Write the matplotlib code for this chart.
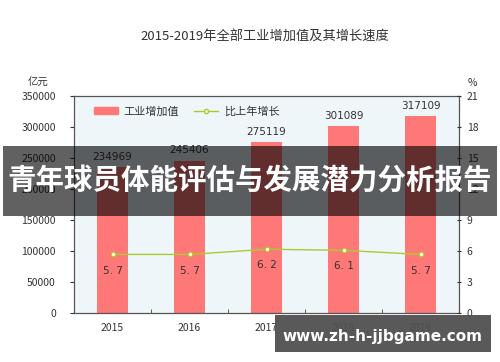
import matplotlib
matplotlib.use("Agg")
import matplotlib.pyplot as plt
from matplotlib.patches import Rectangle
from matplotlib.lines import Line2D
from matplotlib.patches import Patch

plt.rcParams['font.family'] = ['Noto Sans CJK SC', 'DejaVu Sans']

years = ["2015", "2016", "2017", "2018", "2019"]
value_added = [234969, 245406, 275119, 301089, 317109]
growth = [5.7, 5.7, 6.2, 6.1, 5.7]
growth_labels = ["5. 7", "5. 7", "6. 2", "6. 1", "5. 7"]
title = "2015-2019年全部工业增加值及其增长速度"
banner = "青年球员体能评估与发展潜力分析报告"
watermark = "www.zh-h-jjbgame.com"

bar_color = "#ff7878"
line_color = "#aacb30"

fig = plt.figure(figsize=(5.0, 3.62), dpi=100)
ax = fig.add_axes([0.148, 0.134, 0.77, 0.601])
ax.set_facecolor("#eef6fa")
x = list(range(len(years)))
ax.bar(x, value_added, width=0.4, color=bar_color, zorder=2)
ax.set_xlim(-0.5, len(years) - 0.5)
ax.set_ylim(0, 350000)
ax.set_yticks(range(0, 350001, 50000))
ax.set_xticks(x)
ax.set_xticklabels(years)
ax.set_xticks([i + 0.5 for i in x[:-1]], minor=True)
ax.tick_params(axis='x', which='major', length=0, labelsize=7.5, colors="#333333", pad=7)
ax.tick_params(axis='x', which='minor', length=3, direction='in', color="#444444")
ax.tick_params(axis='y', length=3, direction='out', labelsize=7.5, colors="#333333", pad=10)
for sp in ax.spines.values():
    sp.set_color("#555555")
    sp.set_linewidth(0.9)
for xi, v in zip(x, value_added):
    ax.annotate(str(v), (xi, v), xytext=(0, 4), textcoords="offset points",
                ha='center', va='bottom', fontsize=7.5, color="#333333", family="DejaVu Sans")

ax2 = ax.twinx()
ax2.set_ylim(0, 21)
ax2.set_yticks(range(0, 22, 3))
ax2.tick_params(axis='y', length=3, direction='inout', labelsize=7.5, colors="#333333", pad=4)
ax2.plot(x, growth, color=line_color, lw=1.0, marker='o', ms=3.2,
         markerfacecolor="#ffffdd", markeredgecolor=line_color, markeredgewidth=0.8, zorder=3)
for xi, v, lab in zip(x, growth, growth_labels):
    ax2.annotate(lab, (xi, v), xytext=(0, -8), textcoords="offset points",
                 ha='center', va='top', fontsize=7.5, color="#333333", family="DejaVu Sans")
for sp in ax2.spines.values():
    sp.set_visible(False)

fig.text(0.076, 0.77, "亿元", ha='center', va='center', fontsize=7.5, color="#333333")
fig.text(0.944, 0.77, "%", ha='center', va='center', fontsize=7.5, color="#333333")
fig.text(0.53, 0.90, title, ha='center', va='center', fontsize=9.5, color="#333333")

handles = [Patch(color=bar_color), Line2D([0], [0], color=line_color, lw=1.0, marker='o', ms=3,
                                          markerfacecolor="#ffffdd", markeredgecolor=line_color)]
ax.legend(handles, ["工业增加值", "比上年增长"], loc='upper left', ncol=2, frameon=False,
          fontsize=8, handlelength=2.2, columnspacing=1.3, bbox_to_anchor=(0.025, 1.0),
          labelcolor="#333333", handletextpad=0.5)

fig.patches.append(Rectangle((0.006, 0.403), 0.988, 0.193, transform=fig.transFigure,
                             facecolor="black", alpha=0.62, edgecolor='none', zorder=10))
fig.text(0.5, 0.50, banner, ha='center', va='center', fontsize=20.5, fontweight='bold',
         color="white", zorder=11)
fig.patches.append(Rectangle((0.55, 0.028), 0.432, 0.102, transform=fig.transFigure,
                             facecolor="#505050", alpha=0.95, edgecolor='none', zorder=10))
fig.text(0.764, 0.07, watermark, ha='center', va='center', fontsize=11, fontweight='bold',
         color="white", zorder=11, family="DejaVu Sans")

fig.savefig("out.png", dpi=100)
